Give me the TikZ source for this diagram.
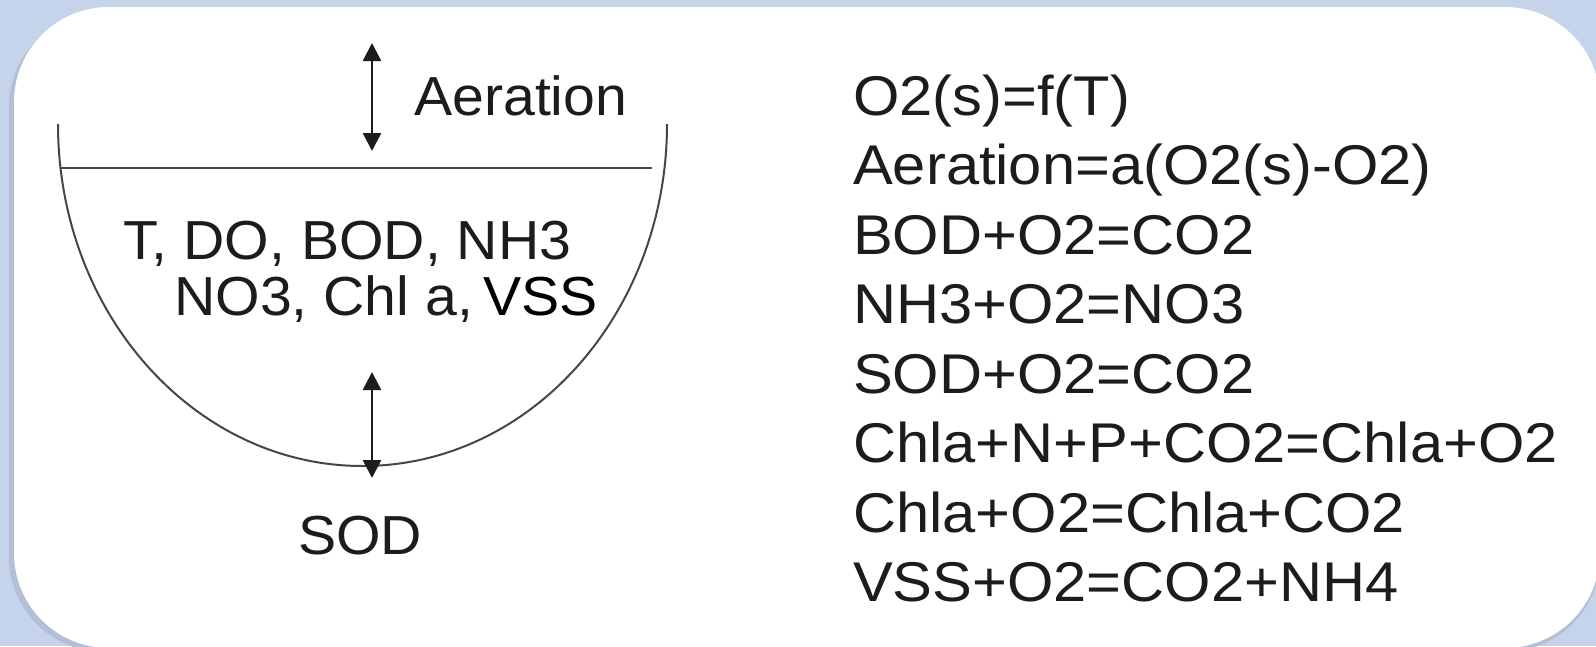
\documentclass[tikz,border=0pt]{standalone}
\usepackage{fontspec}
\setmainfont{Liberation Sans}
\newfontfamily\lblfont[FakeStretch=1.04]{Liberation Sans}
\newfontfamily\eqfont[FakeStretch=1.065]{Liberation Sans}
\usetikzlibrary{arrows.meta}
\definecolor{bgblue}{RGB}{198,212,235}
\definecolor{shadeblue}{RGB}{178,191,214}
\definecolor{ink}{RGB}{28,28,28}
\definecolor{arcgrey}{RGB}{70,70,70}
\begin{document}
\begin{tikzpicture}[x=1pt,y=-1pt,
  lbl/.style={inner sep=0pt, text=ink, font=\lblfont\fontsize{55}{60}\selectfont},
  eqn/.style={inner sep=0pt, text=ink, anchor=base west, font=\eqfont\fontsize{56}{60}\selectfont},
  dblarrow/.style={{Triangle[length=18pt,width=18pt]}-{Triangle[length=18pt,width=18pt]}, line width=2.5pt, draw=ink, fill=ink},
  surface/.style={line width=2.5pt, draw=arcgrey},
  bowl/.style={line width=2pt, draw=arcgrey}]
\useasboundingbox (0,0) rectangle (1596,646);
\fill[bgblue] (0,0) rectangle (1596,646);
\fill[shadeblue, rounded corners=95pt] (9,12) rectangle (1600,652);
\fill[white, rounded corners=95pt] (14,7) rectangle (1600,648);
% bowl
\coordinate (bowlL) at (58,124);
\draw[bowl] (bowlL) arc[start angle=180, end angle=360, x radius=304.5pt, y radius=342pt];
\coordinate (surfL) at (61,168);
\coordinate (surfR) at (652,168);
\draw[surface] (surfL) -- (surfR);
% arrows
\coordinate (aerTop) at (372,43);
\coordinate (aerBot) at (372,151);
\draw[dblarrow] (aerTop) -- (aerBot);
\coordinate (sodTop) at (372,372);
\coordinate (sodBot) at (372,478);
\draw[dblarrow] (sodTop) -- (sodBot);
% labels
\node[lbl, anchor=base west] (aeration) at (414,115) {Aeration};
\node[lbl, anchor=base west] (vars1) at (123,259) {T, DO, BOD, NH3};
\node[lbl, anchor=base west] (vars2) at (174,315) {NO3, Chl a,\hspace{10pt}\textcolor{black}{VSS}};
\node[lbl, anchor=base] (sod) at (360,554) {SOD};
% equations
\node[eqn] (e1) at (853,115) {O2(s)=f(T)};
\node[eqn] (e2) at (853,184.5) {Aeration=a(O2(s)-O2)};
\node[eqn] (e3) at (853,254) {BOD+O2=CO2};
\node[eqn] (e4) at (853,323.5) {NH3+O2=NO3};
\node[eqn] (e5) at (853,393) {SOD+O2=CO2};
\node[eqn] (e6) at (853,462.5) {Chla+N+P+CO2=Chla+O2};
\node[eqn] (e7) at (853,532) {Chla+O2=Chla+CO2};
\node[eqn] (e8) at (853,601.5) {VSS+O2=CO2+NH4};
\end{tikzpicture}
\end{document}
